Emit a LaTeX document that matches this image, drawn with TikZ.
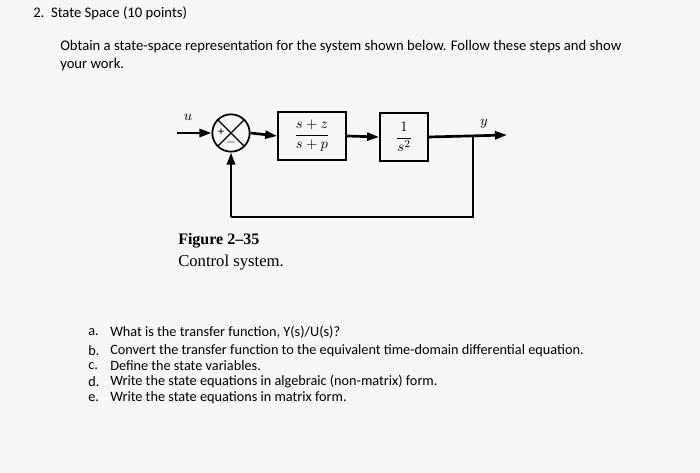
\documentclass[tikz,border=0pt]{standalone}
\usepackage{fontspec}
\setmainfont{Carlito}
\newfontfamily\seriffont{Liberation Serif}
\usetikzlibrary{arrows.meta}
\begin{document}
\begin{tikzpicture}[x=0.75pt,y=-0.75pt,
  txt/.style={anchor=west,inner sep=0pt,font=\fontsize{10.7}{12}\selectfont},
  txtb/.style={anchor=west,inner sep=0pt,font=\fontsize{11}{13}\selectfont},
  blk/.style={draw,line width=1.3pt,minimum width=51pt,minimum height=36pt,inner sep=0pt,font=\fontsize{11}{12}\selectfont},
  blk2/.style={blk,minimum width=36pt},
  sig/.style={line width=2pt,-{Triangle[length=9pt,width=6pt]}},
  wire/.style={line width=2pt}]
\fill[white!93!gray] (0,0) rectangle (700,473);
\useasboundingbox (0,0) rectangle (700,473);
\node[txtb] (q) at (33,13) {2.\ \ State Space (10 points)};
\node[txtb] (l1) at (60,47) {Obtain a state-space representation for the system shown below. Follow these steps and show};
\node[txtb] (l2) at (60,65) {your work.};
\node[draw,circle,line width=1.3pt,minimum size=28pt,inner sep=0pt] (s) at (231,133) {};
\draw[line width=1pt] (s.north west)--(s.south east) (s.north east)--(s.south west);
\node[font=\small,inner sep=0pt] (pl) at (221,132) {+};
\node[font=\small,inner sep=0pt] (mi) at (231,143) {$-$};
\node[blk] (g1) at (312,136) {$\displaystyle\frac{s+z}{s+p}$};
\node[blk2] (g2) at (404,137) {$\displaystyle\frac{1}{s^2}$};
\coordinate (in) at (177,133);
\coordinate (out) at (507,135);
\coordinate (br) at (473,135);
\coordinate (bl) at (231,217);
\node[font=\fontsize{11}{12}\selectfont] (u) at (188,117) {$u$};
\node[font=\fontsize{11}{12}\selectfont] (y) at (484,124) {$y$};
\draw[sig] (in)--(s.west);
\draw[sig] (s.east)--(g1.west);
\draw[sig] (g1.east)--(g2.west);
\draw[sig] (g2.east)--(out);
\draw[wire] (br)|-(bl);
\draw[sig] (bl)--(s.south);
\node[anchor=west,inner sep=0pt,font=\seriffont\bfseries\fontsize{12}{14}\selectfont] (f1) at (178,241) {Figure 2–35};
\node[anchor=west,inner sep=0pt,font=\seriffont\fontsize{12.5}{14}\selectfont] (f2) at (178,263) {Control system.};
\node[txt] (a) at (88,332) {a.};\node[txt] (at) at (110,332) {What is the transfer function, Y(s)/U(s)?};
\node[txt] (b) at (88,351) {b.};\node[txt] (bt) at (110,351) {Convert the transfer function to the equivalent time-domain differential equation.};
\node[txt] (c) at (88,366) {c.};\node[txt] (ct) at (110,366) {Define the state variables.};
\node[txt] (d) at (88,382) {d.};\node[txt] (dt) at (110,382) {Write the state equations in algebraic (non-matrix) form.};
\node[txt] (e) at (88,398) {e.};\node[txt] (et) at (110,398) {Write the state equations in matrix form.};
\end{tikzpicture}
\end{document}
